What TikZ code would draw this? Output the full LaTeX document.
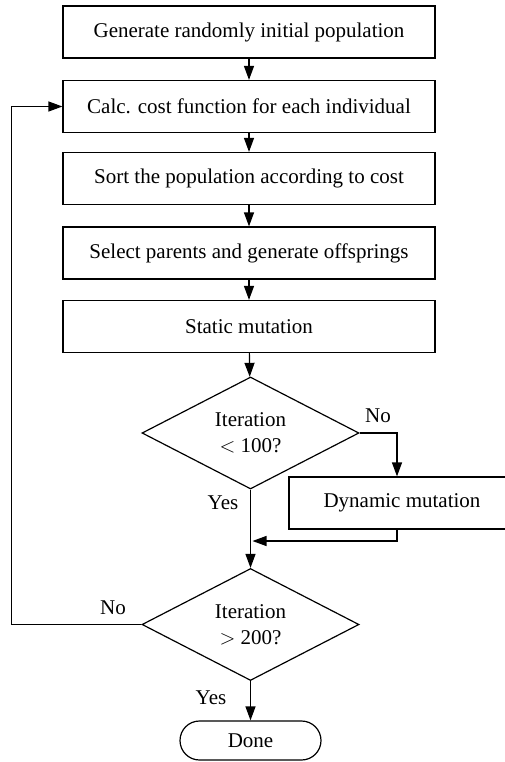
\documentclass[tikz,border=0pt]{standalone}
\usepackage{fontspec}
\setmainfont{Liberation Serif}
\usetikzlibrary{shapes.geometric,shapes.misc,arrows.meta}
\begin{document}
\begin{tikzpicture}[x=1pt,y=-1pt,
  every node/.style={font=\fontsize{21}{26}\selectfont},
  stepbox/.style={draw, line width=1.2pt, minimum width=372pt, minimum height=52pt, inner sep=0pt},
  decision/.style={draw, diamond, line width=1.2pt, minimum width=217pt, minimum height=112pt, inner sep=0pt, align=center},
  term/.style={draw, rounded rectangle, line width=1.2pt, minimum width=141pt, minimum height=39pt, inner sep=0pt},
  lbl/.style={inner sep=0pt},
  flow/.style={line width=1.2pt, -{Triangle[length=14pt,width=10pt]}}]
\clip (0,0) rectangle (505,762);
\node[stepbox] (b1) at (249,32) {Generate randomly initial population};
\node[stepbox] (b2) at (249,106.5) {Calc. cost function for each individual};
\node[stepbox] (b3) at (249,178.5) {Sort the population according to cost};
\node[stepbox] (b4) at (249,253) {Select parents and generate offsprings};
\node[stepbox] (b5) at (249,326.5) {Static mutation};
\node[decision] (d1) at (250.5,433) {Iteration\\$<$ 100?};
\node[stepbox, minimum width=226pt] (dyn) at (402,503) {Dynamic mutation};
\node[decision] (d2) at (250.5,624.5) {Iteration\\$>$ 200?};
\node[term] (done) at (250.5,740.5) {Done};
\node[lbl] (no1) at (378,416) {No};
\node[lbl] (yes1) at (223,503) {Yes};
\node[lbl] (no2) at (113,608) {No};
\node[lbl] (yes2) at (211,698) {Yes};
\coordinate (ret) at (252.5,541);
\draw[flow] (b1) -- (b2);
\draw[flow] (b2) -- (b3);
\draw[flow] (b3) -- (b4);
\draw[flow] (b4) -- (b5);
\draw[flow] (b5) -- (d1);
\draw[flow] (d1) -- (d2);
\draw[flow] (d2) -- (done);
\draw[flow] (d1.east) -| ([xshift=-5pt]dyn.north);
\draw[flow] ([xshift=-5pt]dyn.south) |- (ret);
\draw[flow] (d2.west) -- ++(-130,0) |- (b2.west);
\end{tikzpicture}
\end{document}
